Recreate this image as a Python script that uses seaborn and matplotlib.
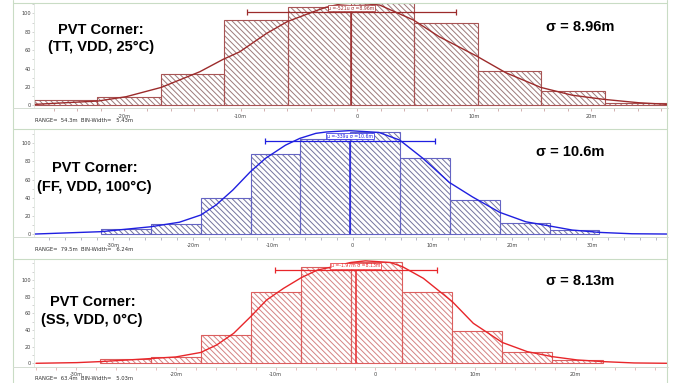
import numpy as np
import pandas as pd
import matplotlib.pyplot as plt
from matplotlib.lines import Line2D
from matplotlib.ticker import MultipleLocator, FuncFormatter
import seaborn as sns

W, H = 683, 383

# ---- data (values in milli-units) ----
tt_start, tt_width = -27.7, 5.43
tt_counts = [6, 9, 34, 93, 107, 111, 89, 37, 16, 3]
tt_curve_x = [-27.7, -22.2, -19.8, -16.8, -13.5, -11.5, -10.1, -7.8, -6.0, -3.5, -2.7,
              -1.5, -0.5, 0.5, 1.9, 4.8, 7.0, 10.2, 12.7, 15.7, 18.4, 21.1, 24.1, 26.6]
tt_curve_y = [1, 4.7, 9.4, 19.5, 36.5, 50, 58, 78, 91, 103, 106.5,
              110, 111, 110.5, 109, 92.7, 74.6, 53.6, 35.5, 19.5, 11, 6.5, 2.8, 1]
tt_mu, tt_sigma, tt_level = -0.521, 8.96, 101

ff_start, ff_width = -31.5, 6.24
ff_counts = [6, 11, 40, 88, 105, 112, 84, 38, 12, 4]
ff_curve_x = [-39.8, -31.5, -25.3, -21.7, -19.0, -17.1, -15.0, -12.8, -10.9, -8.4, -6.6,
              -4.6, -3.3, -0.4, 3.3, 5.9, 8.8, 12.1, 15.0, 18.4, 21.7, 24.6, 27.5, 30.9, 35.0, 39.4]
ff_curve_y = [0, 2.6, 8, 13, 21, 32, 48.5, 68.7, 83.5, 98, 105.5,
              111, 112.5, 114, 112, 103.6, 83.5, 57, 41, 24, 13.5, 9, 4.4, 1.8, 0.3, 0]
ff_mu, ff_sigma, ff_level = -0.339, 10.6, 103

ss_start, ss_width = -27.55, 5.03
ss_counts = [5, 7, 34, 86, 115, 122, 85, 39, 13, 4]
ss_curve_x = [-34.0, -29.9, -27.6, -24.2, -20.0, -17.5, -15.9, -14.2, -12.5, -10.9, -9.2,
              -7.4, -5.8, -4.2, -2.5, -1.0, 1.5, 2.7, 4.8, 7.7, 9.8, 12.7, 15.2, 17.7, 20.2, 22.8, 25.9, 29.2]
ss_curve_y = [0, 0.8, 2, 4.4, 7.6, 13, 22, 36, 56, 76, 90,
              103, 112, 116, 121, 123, 121, 116, 102, 74, 48, 25, 14, 8, 4, 2, 0.4, 0]
ss_mu, ss_sigma, ss_level = -1.97, 8.13, 112

sns.set_style("white")
plt.rcParams['font.family'] = ['DejaVu Sans']
plt.rcParams['hatch.linewidth'] = 0.7

fig = plt.figure(figsize=(W / 100, H / 100), dpi=100)
frame = "#c9dcc5"


def px_box(x0, y0, x1, y1):
    return [x0 / W, 1 - y1 / H, (x1 - x0) / W, (y1 - y0) / H]


def fig_line(x0, y0, x1, y1, color=frame, lw=0.8):
    fig.add_artist(Line2D([x0 / W, x1 / W], [1 - y0 / H, 1 - y1 / H],
                          transform=fig.transFigure, color=color, lw=lw))


def tick_fmt(v, pos):
    if abs(v) < 1e-9:
        return "0"
    return "%dm" % v


def draw_panel(box, xlim, ylim, start, width, counts, cx, cy, mu, sigma, level,
               mu_txt, sig_txt, line_c, edge_c, hatch_c, tick_c):
    ax = fig.add_axes(px_box(*box))
    n = len(counts)
    centers = start + width * (np.arange(n) + 0.5)
    df = pd.DataFrame({"x": centers, "n": counts})
    brange = (start, start + width * n)
    sns.histplot(data=df, x="x", weights="n", binwidth=width, binrange=brange, ax=ax,
                 color="white", edgecolor=hatch_c, linewidth=0, alpha=1)
    for p in ax.patches:
        p.set_hatch("\\" * 6)
        p.set_facecolor("white")
        p.set_edgecolor(hatch_c)
    sns.histplot(data=df, x="x", weights="n", binwidth=width, binrange=brange, ax=ax,
                 fill=False, color=edge_c, linewidth=0.8)
    sns.lineplot(x=cx, y=cy, ax=ax, color=line_c, lw=1.0, sort=False)
    ax.vlines(mu, 0, level, color=line_c, lw=1.1, zorder=4)
    ax.errorbar(mu, level, xerr=sigma, color=line_c, lw=0.9, capsize=2, capthick=0.9, zorder=4)
    ax.text(mu, level + 2, "\u03bc =%s \u03c3 =%s" % (mu_txt, sig_txt), ha="center", va="bottom",
            fontsize=3.3, color=line_c, zorder=6,
            bbox=dict(boxstyle="square,pad=0.15", fc="white", ec=line_c, lw=0.5))
    ax.set_xlim(*xlim)
    ax.set_ylim(*ylim)
    ax.set_xlabel("")
    ax.set_ylabel("")
    ax.set_yticks([0, 20, 40, 60, 80, 100])
    ax.yaxis.set_minor_locator(MultipleLocator(10))
    ax.xaxis.set_major_locator(MultipleLocator(10))
    ax.xaxis.set_minor_locator(MultipleLocator(2))
    ax.xaxis.set_major_formatter(FuncFormatter(tick_fmt))
    ax.tick_params(axis="x", which="both", direction="out", color=tick_c, labelsize=3.6,
                   labelcolor="#404040", pad=1.5, bottom=True)
    ax.tick_params(axis="x", which="major", length=2.5, width=0.5)
    ax.tick_params(axis="x", which="minor", length=1.8, width=0.5)
    ax.tick_params(axis="y", which="both", direction="out", color="#b0b0b0", labelsize=3.6,
                   labelcolor="#404040", pad=1, length=1.2, width=0.4, left=True)
    for s in ["top", "right", "bottom"]:
        ax.spines[s].set_visible(False)
    ax.spines["left"].set_color("#dfe6df")
    ax.spines["left"].set_linewidth(0.6)
    ax.patch.set_alpha(0)
    return ax


draw_panel((34, 3, 668, 108), (-27.7, 26.6), (-2.9, 111.2), tt_start, tt_width, tt_counts,
           tt_curve_x, tt_curve_y, tt_mu, tt_sigma, tt_level, "-521u", "8.96m",
           "#9c2b2b", "#a85454", "#9c7a7a", "#c09090")
draw_panel((34, 129, 668, 237.3), (-39.9, 39.5), (-3.6, 115.8), ff_start, ff_width, ff_counts,
           ff_curve_x, ff_curve_y, ff_mu, ff_sigma, ff_level, "-339u", "10.6m",
           "#1f1fe0", "#6464c4", "#74749e", "#9a9ab0")
draw_panel((34, 259, 668, 366.7), (-34.2, 29.3), (-4.1, 125.2), ss_start, ss_width, ss_counts,
           ss_curve_x, ss_curve_y, ss_mu, ss_sigma, ss_level, "-1.97m", "8.13m",
           "#e8262a", "#dc5e5e", "#d48282", "#e0a0a0")

# frame lines
fig_line(13, 0, 13, 383)
fig_line(667, 0, 667, 383)
for y in (3, 129, 259):
    fig_line(13, y, 667, y)
for y in (108, 237.3, 366.7):
    fig_line(13, y, 668, y, color="#d4dcd2", lw=0.7)

# annotations
big = dict(family="Liberation Sans", weight="bold", fontsize=10.5, ha="center", va="center",
           color="black")
small = dict(fontsize=3.8, color="#303030", ha="left", va="center")


def put(x, y, s, **kw):
    fig.text(x / W, 1 - y / H, s, **kw)


put(101, 30, "PVT Corner:", **big)
put(101, 47, "(TT, VDD, 25\u00b0C)", **big)
put(580, 26.7, "\u03c3 = 8.96m", **big)
put(35, 120.5, "RANGE=  54.3m  BIN-Width=   5.43m", **small)

put(95, 168.3, "PVT Corner:", **big)
put(94.5, 187.3, "(FF, VDD, 100\u00b0C)", **big)
put(570.5, 151.7, "\u03c3 = 10.6m", **big)
put(35, 249.3, "RANGE=  79.5m  BIN-Width=   6.24m", **small)

put(92.5, 301.7, "PVT Corner:", **big)
put(91.5, 320, "(SS, VDD, 0\u00b0C)", **big)
put(580, 281, "\u03c3 = 8.13m", **big)
put(35, 379, "RANGE=  63.4m  BIN-Width=   5.03m", **small)

fig.savefig("out.png", dpi=100)
